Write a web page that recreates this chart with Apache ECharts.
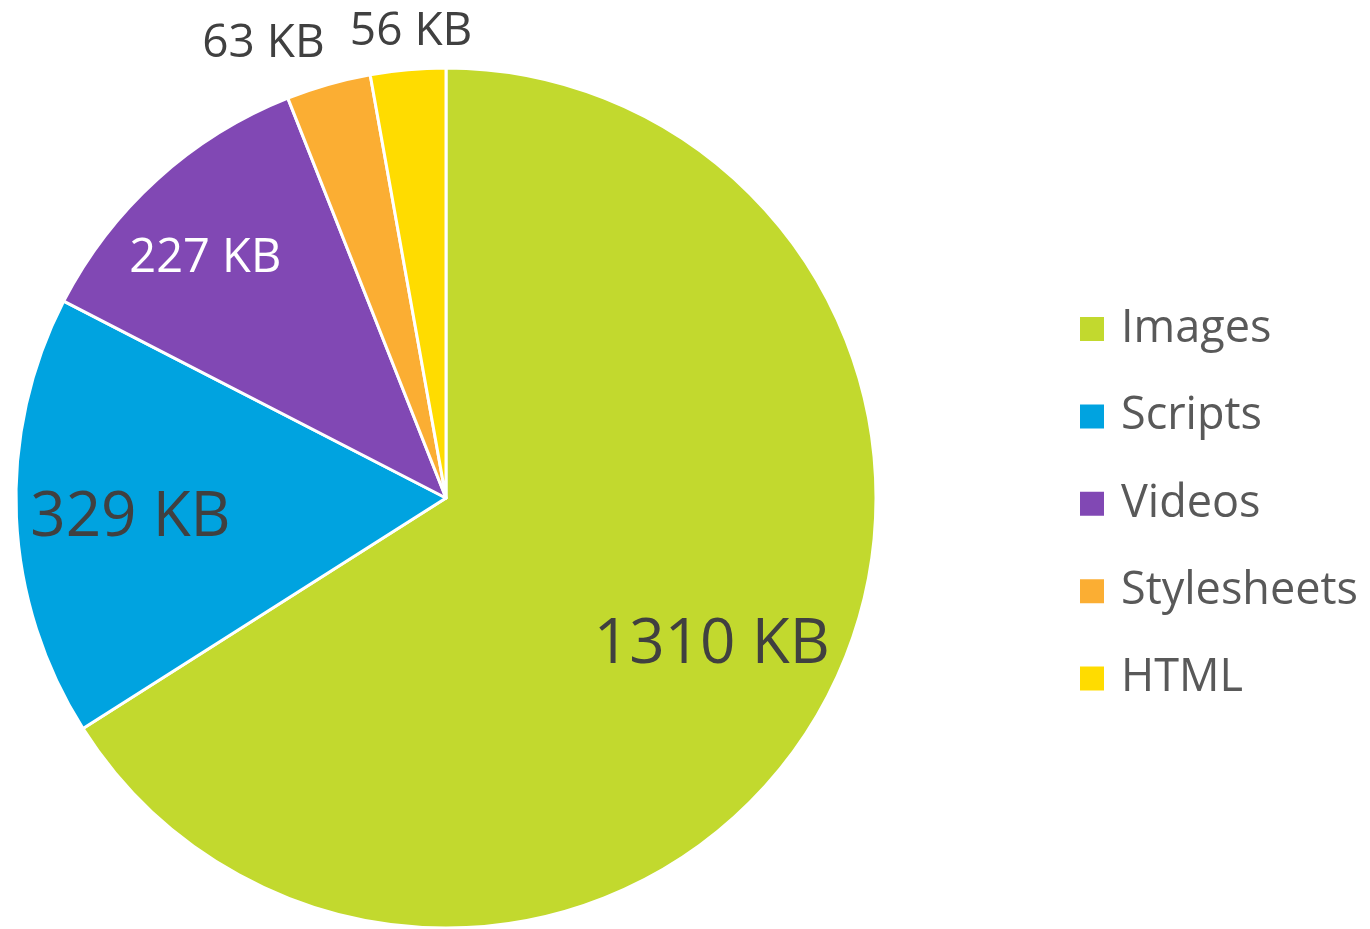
<!DOCTYPE html>
<html>
<head>
<meta charset="utf-8">
<title>Page weight</title>
<script src="https://cdn.jsdelivr.net/npm/echarts@6/dist/echarts.min.js"></script>
<style>
  html, body { margin: 0; padding: 0; background: #fff; }
  #chart { width: 1370px; height: 929px; }
</style>
</head>
<body>
<div id="chart"></div>
<script>
// values
var categories = ['Images', 'Scripts', 'Videos', 'Stylesheets', 'HTML'];
var sizesKB = [1310, 329, 227, 63, 56];

var colors = ['#c2d92e', '#00a3e0', '#8148b4', '#fbae33', '#ffdc00'];

var center = [446, 498];
var radius = 430;

function sliceData(labelFor) {
    var rows = [];
    for (var i = 0; i < categories.length; i++) {
        var row = { name: categories[i], value: sizesKB[i] };
        var lab = labelFor(i);
        if (lab) row.label = lab;
        rows.push(row);
    }
    return rows;
}

var labelFont = 'Open Sans';

var option = {
    animation: false,
    color: colors,
    legend: {
        orient: 'vertical',
        left: 1078,
        top: 304,
        padding: 0,
        itemWidth: 26,
        itemHeight: 26,
        itemGap: 37.4,
        icon: 'rect',
        selectedMode: false,
        data: categories,
        textStyle: {
            fontFamily: labelFont,
            fontSize: 45,
            color: '#595959',
            lineHeight: 50,
            padding: [0, 0, 0, 11]
        }
    },
    series: [
        {
            // the visible pie
            type: 'pie',
            center: center,
            radius: [0, radius],
            startAngle: 90,
            clockwise: true,
            silent: true,
            itemStyle: { borderColor: '#fff', borderWidth: 3 },
            label: { show: false },
            labelLine: { show: false },
            data: sliceData(function () { return null; })
        },
        {
            // transparent pie that only carries the inner labels
            type: 'pie',
            center: center,
            radius: [0, radius * 1.46],
            startAngle: 90,
            silent: true,
            itemStyle: { color: 'transparent', borderWidth: 0 },
            labelLine: { show: false },
            label: {
                show: true,
                position: 'inside',
                fontFamily: labelFont,
                color: '#404040',
                fontSize: 62,
                formatter: '{c} KB'
            },
            data: sliceData(function (i) {
                if (i === 0) return { offset: [-12, -5] };
                if (i === 1) return { offset: [1, 6] };
                if (i === 2) return { color: '#fff', fontSize: 47, offset: [-28, -5] };
                if (i > 2) return { show: false };
                return null;
            })
        },
        {
            // transparent pie that carries the labels above the small slices
            type: 'pie',
            center: center,
            radius: [0, radius * 2.19],
            startAngle: 90,
            silent: true,
            itemStyle: { color: 'transparent', borderWidth: 0 },
            labelLine: { show: false },
            label: {
                show: true,
                position: 'inside',
                fontFamily: labelFont,
                color: '#404040',
                fontSize: 46,
                formatter: '{c} KB'
            },
            data: sliceData(function (i) {
                if (i < 3) return { show: false };
                if (i === 3) return { offset: [-53, 2] };
                return { offset: [7, 6] };
            })
        }
    ]
};

var chart = echarts.init(document.getElementById('chart'));
chart.setOption(option);
window.onresize = function () { chart.resize(); };
</script>
</body>
</html>
